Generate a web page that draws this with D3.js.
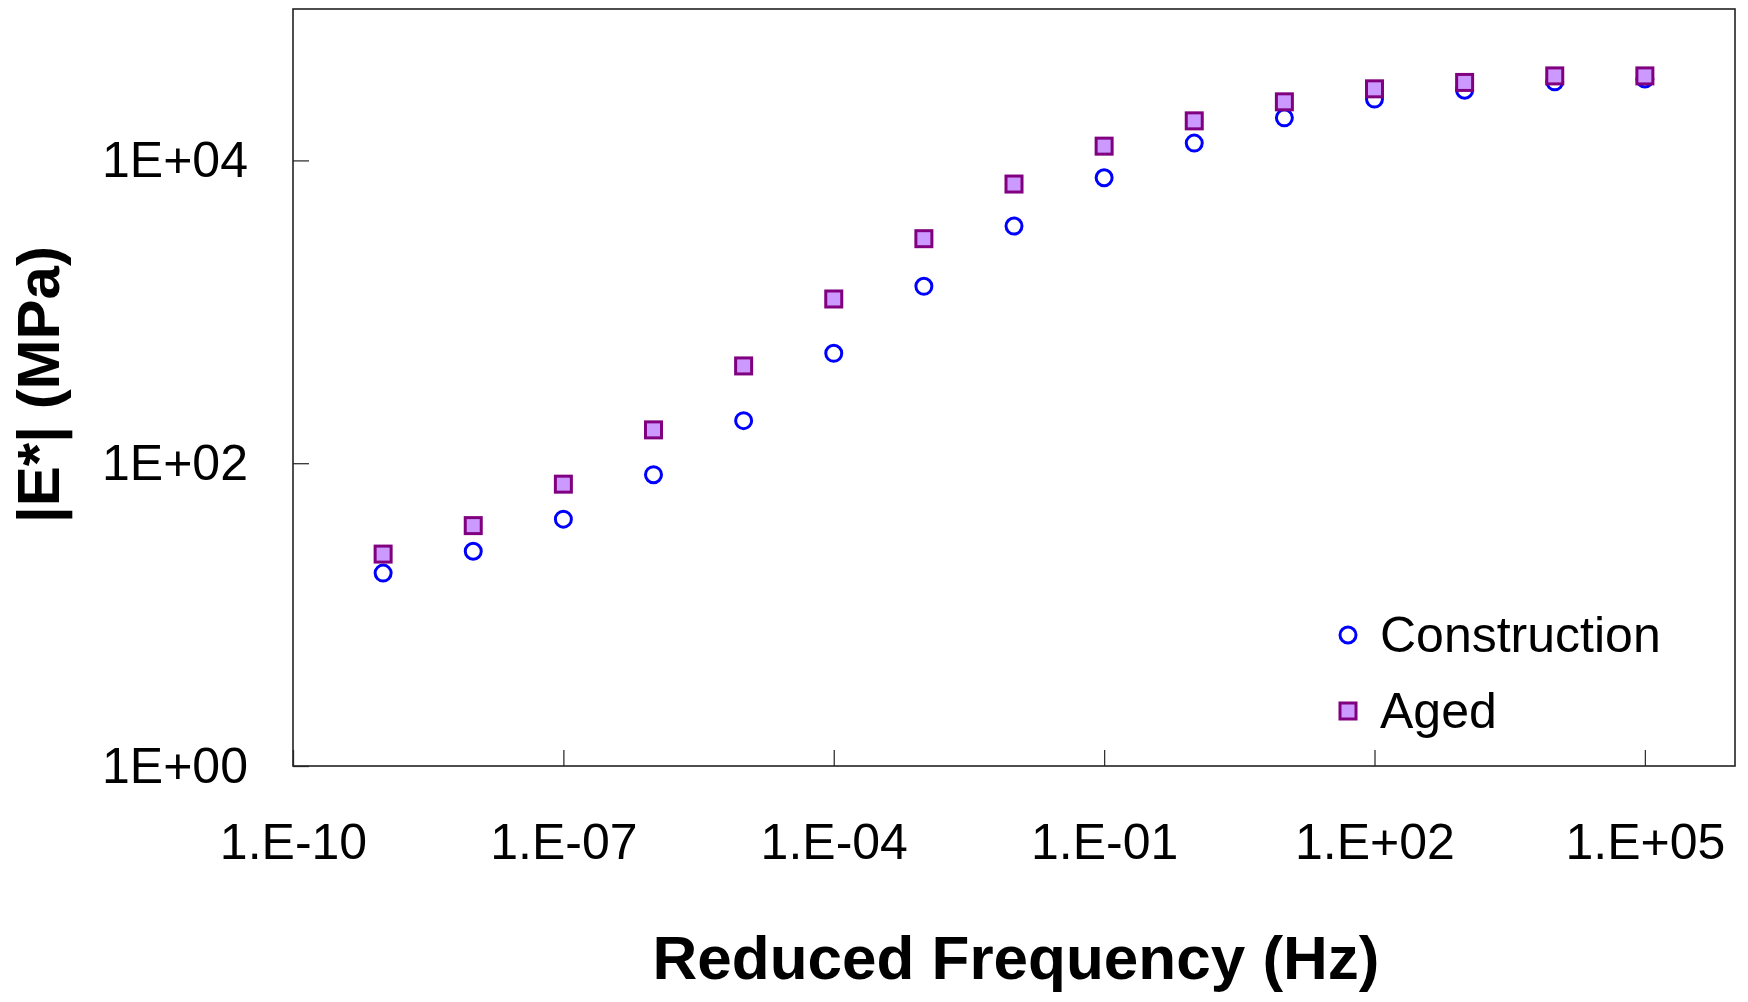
<!DOCTYPE html>
<html>
<head>
<meta charset="utf-8">
<script src="https://cdn.jsdelivr.net/npm/d3@7"></script>
<style>
    body { margin: 0; background: #fff; }
    text { font-family: 'Liberation Sans', Arial, sans-serif; }
</style>
</head>
<body>
<div class="canvas"></div>
<script>
'use strict';

// reduced frequency (Hz) and |E*| (MPa)
const frequencies = [1e-9, 1e-8, 1e-7, 1e-6, 1e-5, 1e-4, 1e-3, 1e-2, 1e-1, 1e0, 1e1, 1e2, 1e3, 1e4, 1e5];
const construction = [18.8, 26.2, 42.7, 84, 191, 532, 1473, 3684, 7680, 13010, 19100, 25400, 29100, 33030, 34500];
const aged = [25.1, 38.7, 72.7, 166, 439, 1215, 3040, 6980, 12420, 18250, 24370, 29700, 32730, 36150, 36150];

const xTicks = [1e-10, 1e-7, 1e-4, 1e-1, 1e2, 1e5];
const yTicks = [1e0, 1e2, 1e4];
const seriesNames = ['Construction', 'Aged'];

const dimensions = { width: 1748, height: 1002 };
const plot = { left: 293, right: 1735, top: 9, bottom: 766 };

const svg = d3.select('.canvas')
    .append('svg')
    .attr('width', dimensions.width)
    .attr('height', dimensions.height);

const x = d3.scaleLog().domain([1e-10, 1e6]).range([plot.left, plot.right]);
const y = d3.scaleLog().domain([1e0, 1e5]).range([plot.bottom, plot.top]);

const exp = d => Math.round(Math.log10(d));
const sciFormat = d => {
    const e = exp(d);
    return (e < 0 ? '-' : '+') + String(Math.abs(e)).padStart(2, '0');
};

const xAxis = d3.axisBottom(x)
    .tickValues(xTicks)
    .tickSizeInner(-16)
    .tickSizeOuter(0)
    .tickPadding(57)
    .tickFormat(d => '1.E' + sciFormat(d));

const yAxis = d3.axisLeft(y)
    .tickValues(yTicks)
    .tickSizeInner(-16)
    .tickSizeOuter(0)
    .tickPadding(45)
    .tickFormat(d => '1E' + sciFormat(d));

const xG = svg.append('g')
    .attr('transform', `translate(0,${plot.bottom})`)
    .call(xAxis);

const yG = svg.append('g')
    .attr('transform', `translate(${plot.left},0)`)
    .call(yAxis);

[xG, yG].forEach(g => {
    g.select('.domain').remove();
    g.selectAll('line').attr('stroke', '#333').attr('stroke-width', 1.3);
    g.selectAll('text')
        .attr('fill', '#000')
        .style('font-size', '50px')
        .style('font-family', '\'Liberation Sans\', Arial, sans-serif');
});

// plot frame
svg.append('rect')
    .attr('x', plot.left)
    .attr('y', plot.top)
    .attr('width', plot.right - plot.left)
    .attr('height', plot.bottom - plot.top)
    .attr('fill', 'none')
    .attr('stroke', '#222')
    .attr('stroke-width', 1.6);

// axis titles
svg.append('text')
    .attr('x', (plot.left + plot.right) / 2 + 2)
    .attr('y', 979)
    .attr('text-anchor', 'middle')
    .style('font-size', '62px')
    .style('font-weight', 'bold')
    .text('Reduced Frequency (Hz)');

svg.append('text')
    .attr('transform', `translate(59,${(plot.top + plot.bottom) / 2 - 3}) rotate(-90)`)
    .attr('text-anchor', 'middle')
    .style('font-size', '60px')
    .style('font-weight', 'bold')
    .text('|E*| (MPa)');

const graph = svg.append('g');

const squareSize = 16;

graph.selectAll('circle.construction')
    .data(frequencies.map((f, i) => ({ f, v: construction[i] })))
    .enter().append('circle')
    .attr('class', 'construction')
    .attr('cx', d => x(d.f))
    .attr('cy', d => y(d.v))
    .attr('r', 8)
    .attr('fill', 'none')
    .attr('stroke', '#0000ff')
    .attr('stroke-width', 3);

// squares drawn after, so they sit on top where they overlap
graph.selectAll('rect.aged')
    .data(frequencies.map((f, i) => ({ f, v: aged[i] })))
    .enter().append('rect')
    .attr('class', 'aged')
    .attr('x', d => x(d.f) - squareSize / 2)
    .attr('y', d => y(d.v) - squareSize / 2)
    .attr('width', squareSize)
    .attr('height', squareSize)
    .attr('fill', '#cc99ff')
    .attr('stroke', '#800080')
    .attr('stroke-width', 3);

// legend
const legendGroup = svg.append('g').attr('transform', 'translate(1348,635)');

const legendItems = legendGroup.selectAll('g')
    .data(seriesNames)
    .enter().append('g')
    .attr('transform', (d, i) => `translate(0,${i * 76})`);

legendItems.filter(d => d === 'Construction')
    .append('circle')
    .attr('r', 8)
    .attr('fill', 'none')
    .attr('stroke', '#0000ff')
    .attr('stroke-width', 3);

legendItems.filter(d => d === 'Aged')
    .append('rect')
    .attr('x', -squareSize / 2)
    .attr('y', -squareSize / 2)
    .attr('width', squareSize)
    .attr('height', squareSize)
    .attr('fill', '#cc99ff')
    .attr('stroke', '#800080')
    .attr('stroke-width', 3);

legendItems.append('text')
    .attr('x', 32)
    .attr('y', 17)
    .style('font-size', '50px')
    .text(d => d);
</script>
</body>
</html>
